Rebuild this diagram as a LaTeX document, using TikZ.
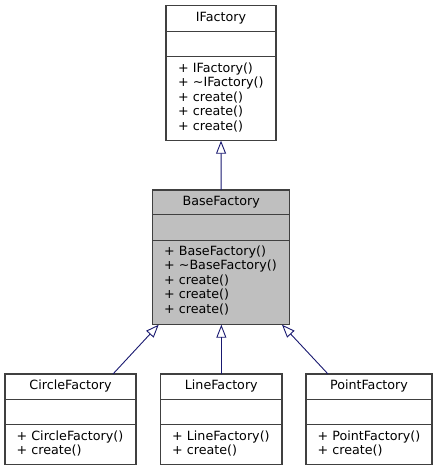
\documentclass[tikz,border=0pt]{standalone}
\usepackage{fontspec}
\setmainfont{DejaVu Sans}
\usetikzlibrary{arrows.meta,calc}
\definecolor{edgeblue}{HTML}{191970}
\definecolor{boxline}{HTML}{404040}
\definecolor{basefill}{HTML}{BFBFBF}
\tikzset{
  classbox/.style={draw=boxline, line width=1.1pt, fill=white, anchor=north west, inner sep=0pt, outer sep=0pt},
  divider/.style={draw=boxline, line width=1.1pt},
  title/.style={font=\fontsize{12.7}{14.5}\selectfont, inner sep=0pt, text height=9.5pt, text depth=2.7pt},
  member/.style={font=\fontsize{12.7}{14.5}\selectfont, inner sep=0pt, anchor=west, text height=9.5pt, text depth=2.7pt},
  inherit/.style={draw=edgeblue, line width=0.9pt, -{Triangle[open, length=13pt, width=10pt, line width=0.9pt]}}
}
\begin{document}
\begin{tikzpicture}[x=1pt, y=-1pt]
\useasboundingbox (0,0) rectangle (438,471);

% IFactory
\node[classbox, minimum width=110pt, minimum height=135.4pt] (if) at (166,5.3) {};
\draw[divider] (166,31.7) -- (276,31.7);
\draw[divider] (166,56.7) -- (276,56.7);
\node[title] (if-t) at (221,18.5) {IFactory};
\foreach \t [count=\i] in {+ IFactory(), + \textasciitilde IFactory(), + create(), + create(), + create()}
  \node[member] (if-m\i) at (178,{69+14.5*(\i-1)}) {\t};

% BaseFactory
\node[classbox, fill=basefill, minimum width=137pt, minimum height=134.7pt] (bf) at (152.7,190) {};
\draw[divider] (152.7,214.3) -- (289.7,214.3);
\draw[divider] (152.7,240.7) -- (289.7,240.7);
\node[title] (bf-t) at (221.2,202) {BaseFactory};
\foreach \t [count=\i] in {+ BaseFactory(), + \textasciitilde BaseFactory(), + create(), + create(), + create()}
  \node[member] (bf-m\i) at (164,{252+14.5*(\i-1)}) {\t};

% CircleFactory
\node[classbox, minimum width=131pt, minimum height=90.3pt] (cf) at (5,374) {};
\draw[divider] (5,399.3) -- (136,399.3);
\draw[divider] (5,424.7) -- (136,424.7);
\node[title] (cf-t) at (70.5,386.5) {CircleFactory};
\foreach \t [count=\i] in {+ CircleFactory(), + create()}
  \node[member] (cf-m\i) at (16.5,{437+14*(\i-1)}) {\t};

% LineFactory
\node[classbox, minimum width=121.3pt, minimum height=90.3pt] (lf) at (160.7,374) {};
\draw[divider] (160.7,399.3) -- (282,399.3);
\draw[divider] (160.7,424.7) -- (282,424.7);
\node[title] (lf-t) at (221.3,386.5) {LineFactory};
\foreach \t [count=\i] in {+ LineFactory(), + create()}
  \node[member] (lf-m\i) at (172,{437+14*(\i-1)}) {\t};

% PointFactory
\node[classbox, minimum width=126pt, minimum height=90.3pt] (pf) at (306,374) {};
\draw[divider] (306,399.3) -- (432,399.3);
\draw[divider] (306,424.7) -- (432,424.7);
\node[title] (pf-t) at (369,386.5) {PointFactory};
\foreach \t [count=\i] in {+ PointFactory(), + create()}
  \node[member] (pf-m\i) at (317.5,{437+14*(\i-1)}) {\t};

% inheritance
\draw[inherit] (bf.north) -- (if.south);
\draw[inherit] (lf.north) -- (lf.north |- bf.south);
\draw[inherit] ($(cf.north west)+(108,0)$) -- ($(bf.south west)+(6,0)$);
\draw[inherit] ($(pf.north west)+(22,0)$) -- ($(bf.south east)+(-7.7,0)$);
\end{tikzpicture}
\end{document}
